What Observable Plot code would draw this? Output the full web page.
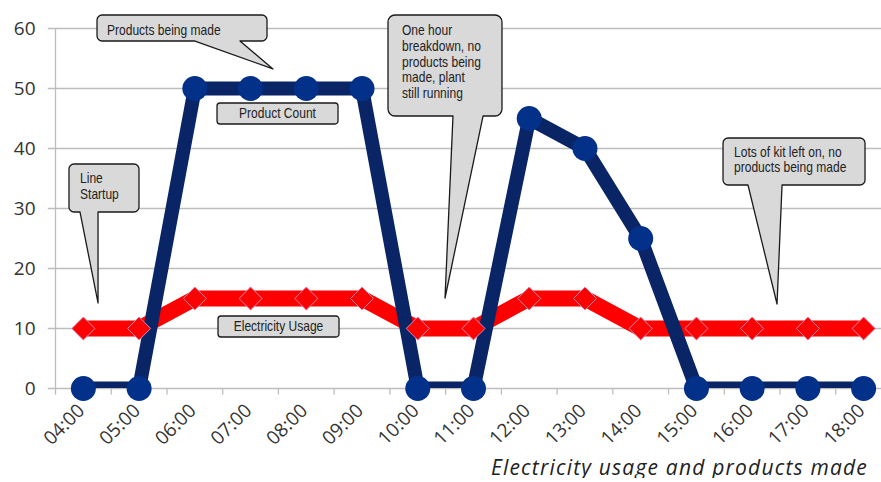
<!DOCTYPE html>
<html>
<head>
<meta charset="utf-8">
<script src="https://cdn.jsdelivr.net/npm/d3@7"></script>
<script src="https://cdn.jsdelivr.net/npm/@observablehq/plot@0.6"></script>
<style>
  html, body { margin: 0; padding: 0; background: #fff; }
  #chart svg { display: block; overflow: visible; }
  #title { font: italic 21px "Open Sans", sans-serif; letter-spacing: 1.2px; color: #222; text-align: right; padding-right: 13px; line-height: 22px; width: 868px; box-sizing: content-box; }
</style>
</head>
<body>
<div id="chart"></div>
<div id="title">Electricity usage and products made</div>
<script>
// ---- data ----
const hours = ["04:00","05:00","06:00","07:00","08:00","09:00","10:00","11:00","12:00","13:00","14:00","15:00","16:00","17:00","18:00"];
const productCount = [0, 0, 50, 50, 50, 50, 0, 0, 45, 40, 25, 0, 0, 0, 0];
const electricityUsage = [10, 10, 15, 15, 15, 15, 10, 10, 15, 15, 10, 10, 10, 10, 10];
const yTicks = [0, 10, 20, 30, 40, 50, 60];

// annotation callouts (data coordinates: x = category index, y = value)
const callouts = [
  {lines: ["Products being made"], box: [0.254, 3.304, 62.17, 57.83], textX: 0.433, textY: [59.6], anchor: "start",
   pointer: [2.012, 2.819, 3.411, 53.17], r: 5},
  {lines: ["Product Count"], box: [2.407, 4.578, 47.5, 44.0], textX: 3.492, textY: [45.75], anchor: "middle", r: 3},
  {lines: ["Line", "Startup"], box: [-0.249, 1.007, 37.33, 29.33], textX: -0.051, textY: [35.0, 32.33], anchor: "start",
   pointer: [-0.051, 0.272, 0.272, 14.17], r: 5},
  {lines: ["One hour", "breakdown, no", "products being", "made, plant", "still running"], box: [5.475, 7.52, 62.17, 45.33],
   textX: 5.726, textY: [59.67, 57.0, 54.4, 51.75, 49.15], anchor: "start", pointer: [6.641, 7.18, 6.498, 15.0], r: 7},
  {lines: ["Lots of kit left on, no", "products being made"], box: [11.486, 14.034, 41.67, 33.83], textX: 11.683, textY: [39.33, 36.83],
   anchor: "start", pointer: [11.934, 12.545, 12.455, 14.0], r: 5},
  {lines: ["Electricity Usage"], box: [2.425, 4.596, 12.0, 8.5], textX: 3.51, textY: [10.25], anchor: "middle", r: 3}
];

const idx = hours.map((_, i) => i);
const product = hours.map((h, i) => ({i, h, v: productCount[i]}));
const elec = hours.map((h, i) => ({i, h, v: electricityUsage[i]}));
const bounds = idx.map(i => i - 0.5).concat([hours.length - 0.5]);

function calloutMark(index, scales) {
  const x = scales.x, y = scales.y;
  const g = d3.create("svg:g");
  for (const c of callouts) {
    const x1 = x(c.box[0]), x2 = x(c.box[1]), yt = y(c.box[2]), yb = y(c.box[3]);
    const r = c.r;
    let p = `M${x1 + r},${yt}H${x2 - r}A${r},${r} 0 0 1 ${x2},${yt + r}V${yb - r}A${r},${r} 0 0 1 ${x2 - r},${yb}`;
    if (c.pointer) {
      const [a, b, tx, ty] = c.pointer;
      p += `H${x(b)}L${x(tx)},${y(ty)}L${x(a)},${yb}`;
    }
    p += `H${x1 + r}A${r},${r} 0 0 1 ${x1},${yb - r}V${yt + r}A${r},${r} 0 0 1 ${x1 + r},${yt}Z`;
    g.append("path").attr("d", p).attr("fill", "#d9d9d9").attr("stroke", "#1a1a1a").attr("stroke-width", 1.3)
      .attr("stroke-linejoin", "round");
    c.lines.forEach((line, k) => {
      g.append("text")
        .attr("transform", `translate(${x(c.textX)},${y(c.textY[k])}) scale(0.86,1)`)
        .attr("dy", "0.35em").attr("text-anchor", c.anchor)
        .attr("font-family", "'Liberation Sans', Arial, sans-serif")
        .attr("font-size", 14).attr("fill", "#222").text(line);
    });
  }
  return g.node();
}

const chart = Plot.plot({
  width: 881,
  height: 456,
  marginLeft: 55,
  marginRight: 0,
  marginTop: 28,
  marginBottom: 68,
  x: {domain: [-0.5, hours.length - 0.5], range: [55, 891], axis: null},
  y: {domain: [0, 60], axis: null},
  style: {fontFamily: "'Open Sans', sans-serif", overflow: "visible"},
  marks: [
    Plot.ruleY(yTicks, {x1: -0.63, x2: hours.length - 0.5, stroke: "#bdbdbd", strokeWidth: 1.3, strokeOpacity: 1}),
    Plot.ruleX([-0.5], {y1: 0, y2: 60, stroke: "#bdbdbd", strokeWidth: 1.3, strokeOpacity: 1}),
    Plot.ruleX(bounds, {y1: 0, y2: -1.1, stroke: "#bdbdbd", strokeWidth: 1.3, strokeOpacity: 1}),
    Plot.text(yTicks, {x: -0.5, y: d => d, text: d => String(d), textAnchor: "end", dx: -20, fontSize: 19, fill: "#333"}),
    Plot.text(idx, {x: i => i, y: 0, text: i => hours[i], rotate: -45, textAnchor: "end", dx: -2, dy: 19, fontSize: 19, fill: "#333"}),
    Plot.line(elec, {x: "i", y: "v", stroke: "#ff0000", strokeWidth: 16, clip: true, strokeLinejoin: "round"}),
    Plot.line(product, {x: "i", y: "v", stroke: "#0a2566", strokeWidth: 14, clip: true, strokeLinejoin: "round"}),
    Plot.dot(product, {x: "i", y: "v", r: 12.5, fill: "#03318a", stroke: null}),
    Plot.dot(elec, {x: "i", y: "v", r: 10.4, symbol: "diamond2", fill: "#ff0000", stroke: "#d98ab8", strokeWidth: 1}),
    calloutMark
  ]
});
document.getElementById("chart").appendChild(chart);
</script>
</body>
</html>
